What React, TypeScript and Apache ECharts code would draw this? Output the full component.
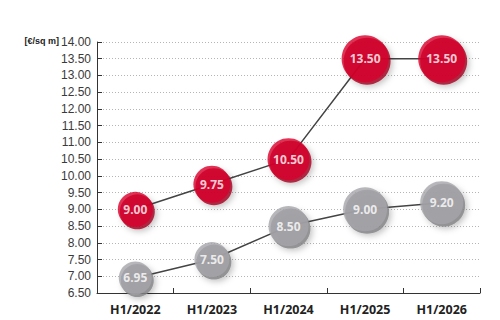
import React, { useEffect, useRef } from "react";
import * as echarts from "echarts";

const categories = ["H1/2022", "H1/2023", "H1/2024", "H1/2025", "H1/2026"];
const redValues = [9.0, 9.75, 10.5, 13.5, 13.5];
const grayValues = [6.95, 7.5, 8.5, 9.0, 9.2];
const yAxisName = "[€/sq m]";

const redSizes = [35, 37, 42, 47, 47];
const graySizes = [33, 35, 40, 44, 43];

export default function App() {
  const ref = useRef<HTMLDivElement>(null);
  useEffect(() => {
    if (!ref.current) return;
    const chart = echarts.init(ref.current, null, { renderer: "svg" });

    const faceSeries = (name: string, values: number[], sizes: number[], color: string) => ({
      name,
      type: "scatter",
      data: values,
      z: 5,
      symbol: "circle",
      symbolSize: (_v: any, p: any) => sizes[p.dataIndex],
      itemStyle: { color },
      label: {
        show: true,
        position: "inside",
        formatter: (p: any) => Number(p.value).toFixed(2),
        color: "#ffffff",
        fontFamily: "Open Sans",
        fontWeight: "bold",
        fontSize: 12,
      },
    });
    const edgeSeries = (values: number[], sizes: number[], color: string) => ({
      type: "scatter",
      data: values,
      z: 4,
      symbol: "circle",
      symbolSize: (_v: any, p: any) => sizes[p.dataIndex],
      symbolOffset: [2, 2.5],
      itemStyle: {
        color,
        shadowBlur: 6,
        shadowColor: "rgba(0,0,0,0.3)",
        shadowOffsetX: 2,
        shadowOffsetY: 2,
      },
      silent: true,
    });
    const lineSeries = (values: number[]) => ({
      type: "line",
      data: values,
      z: 2,
      symbol: "none",
      lineStyle: { color: "#444444", width: 1.5 },
      silent: true,
    });

    chart.setOption({
      animation: false,
      grid: { left: 97, right: 20, top: 42, bottom: 27, containLabel: false },
      xAxis: {
        type: "category",
        data: categories,
        boundaryGap: true,
        axisLine: { lineStyle: { color: "#333333", width: 1 } },
        axisTick: { show: true, inside: true, length: 5, lineStyle: { color: "#333333" } },
        axisLabel: {
          color: "#222222",
          fontFamily: "Open Sans",
          fontWeight: "bold",
          fontSize: 12.5,
          margin: 10,
        },
      },
      yAxis: {
        type: "value",
        min: 6.5,
        max: 14,
        interval: 0.5,
        axisLine: { show: true, lineStyle: { color: "#333333", width: 1 } },
        axisTick: { show: true, inside: true, length: 5, lineStyle: { color: "#333333" } },
        axisLabel: {
          color: "#3a3a3a",
          fontFamily: "Liberation Sans",
          fontSize: 12,
          margin: 6,
          formatter: (v: number) => v.toFixed(2),
        },
        splitLine: { show: true, lineStyle: { color: "#b5b5b5", type: [1, 2], width: 1 } },
      },
      graphic: [
        {
          type: "text",
          x: 59,
          y: 41,
          style: {
            text: yAxisName,
            fill: "#222222",
            font: "bold 9px 'Liberation Sans'",
            textAlign: "right",
            textVerticalAlign: "middle",
          },
        },
      ],
      series: [
        lineSeries(redValues),
        lineSeries(grayValues),
        edgeSeries(redValues, redSizes, "#a3001f"),
        edgeSeries(grayValues, graySizes, "#838286"),
        faceSeries("Red", redValues, redSizes, "#d8002c"),
        faceSeries("Gray", grayValues, graySizes, "#a6a5aa"),
      ],
    });
    return () => chart.dispose();
  }, []);
  return <div ref={ref} style={{ width: 500, height: 320, position: "absolute", left: 0, top: 0 }} />;
}
